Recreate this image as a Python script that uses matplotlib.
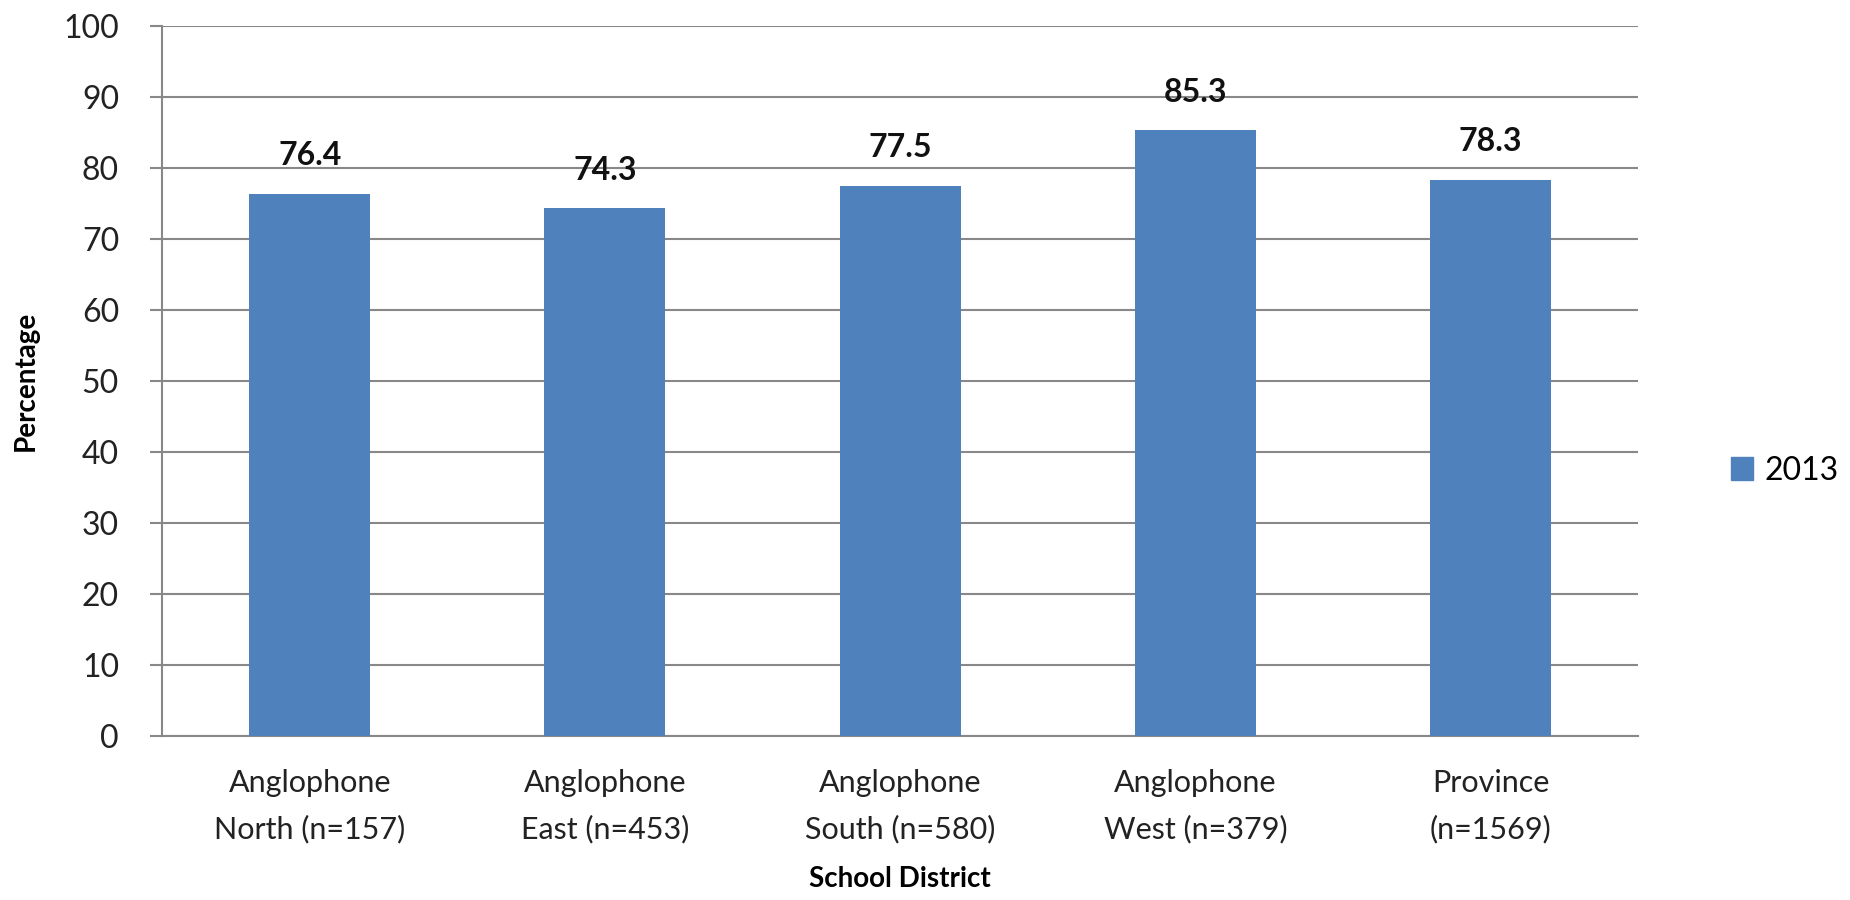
import numpy as np
import matplotlib.pyplot as plt
from matplotlib.patches import Patch

# data
districts = ["Anglophone\nNorth (n=157)", "Anglophone\nEast (n=453)", "Anglophone\nSouth (n=580)",
             "Anglophone\nWest (n=379)", "Province\n(n=1569)"]
pct_2013 = [76.4, 74.3, 77.5, 85.3, 78.3]
yticks = [0, 10, 20, 30, 40, 50, 60, 70, 80, 90, 100]

BAR_COLOR = "#4F81BD"
GRID_COLOR = "#888888"

plt.rcParams["font.family"] = ["Lato", "DejaVu Sans"]

fig = plt.figure(figsize=(18.5, 9), dpi=100)
ax = fig.add_axes([0.0876, 0.1822, 0.798, 0.789])

x = np.arange(len(districts))
bars = ax.bar(x, pct_2013, width=0.41, color=BAR_COLOR, zorder=3, label="2013")

for xi, v in zip(x, pct_2013):
    ax.annotate(f"{v}", (xi, v), xytext=(0, 17), textcoords="offset points",
                ha="center", va="bottom", fontsize=23, fontweight="bold", color="#111111")

ax.set_xlim(-0.5, len(districts) - 0.5)
ax.set_ylim(0, 100)
ax.set_yticks(yticks)
ax.yaxis.grid(True, color=GRID_COLOR, linewidth=1.5, zorder=0)
ax.set_axisbelow(True)

for s in ["top", "right"]:
    ax.spines[s].set_visible(False)
ax.spines["left"].set_color(GRID_COLOR)
ax.spines["left"].set_linewidth(1.5)
ax.spines["bottom"].set_color(GRID_COLOR)
ax.spines["bottom"].set_linewidth(1.5)

ax.tick_params(axis="y", length=9, width=1.5, color=GRID_COLOR, labelsize=23, pad=22, labelcolor="#222222")
ax.tick_params(axis="x", length=0, labelsize=22, pad=24, labelcolor="#222222")
ax.set_xticks(x)
ax.set_xticklabels(districts, linespacing=1.75)

ax.set_ylabel("Percentage", fontsize=20, fontweight="bold", labelpad=18)
ax.set_xlabel("School District", fontsize=20, fontweight="bold", labelpad=16)

fig.legend(handles=[Patch(color=BAR_COLOR, label="2013")], loc="center left",
           bbox_to_anchor=(0.92, 0.477), frameon=False, fontsize=23,
           handlelength=0.7, handleheight=0.7, handletextpad=0.35)

fig.savefig("out.png", dpi=100, facecolor="white")
